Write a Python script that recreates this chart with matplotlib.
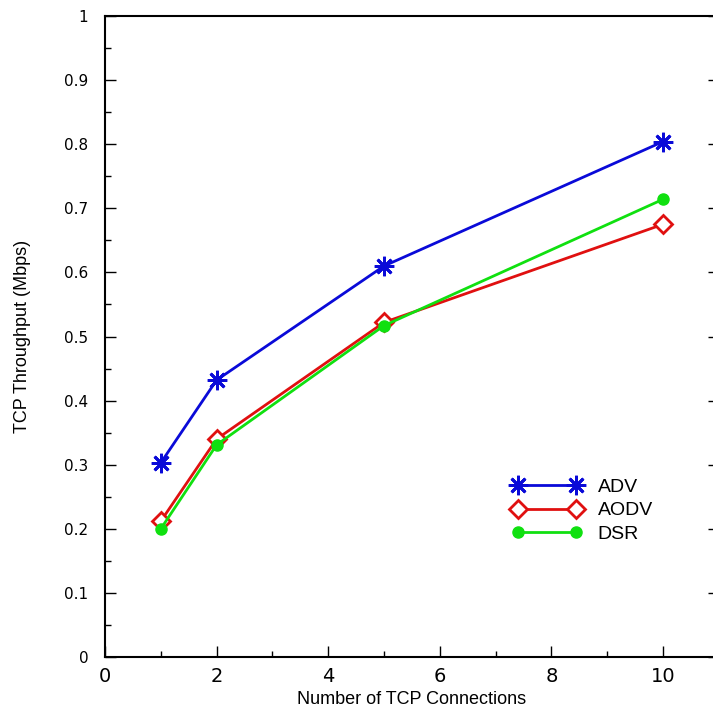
import matplotlib
matplotlib.use("Agg")
import matplotlib.pyplot as plt
from matplotlib.ticker import MultipleLocator

# TCP throughput vs number of connections
connections = [1, 2, 5, 10]
adv = [0.303, 0.432, 0.610, 0.804]
aodv = [0.212, 0.340, 0.522, 0.675]
dsr = [0.200, 0.331, 0.517, 0.714]

x_ticks = [0, 2, 4, 6, 8, 10]
y_ticks = [0, 0.1, 0.2, 0.3, 0.4, 0.5, 0.6, 0.7, 0.8, 0.9, 1]
y_tick_labels = ["0", "0.1", "0.2", "0.3", "0.4", "0.5", "0.6", "0.7", "0.8", "0.9", "1"]

fig = plt.figure(figsize=(7.13, 7.14), dpi=100)
ax = fig.add_axes([0.1473, 0.0798, 0.8608, 0.8978])

ax.plot(connections, adv, color="#0a0ad8", lw=2, marker=(8, 2, 0), ms=14,
        mew=2, label="ADV")
ax.plot(connections, aodv, color="#e01010", lw=2, marker="D", ms=9,
        mfc="white", mew=2, label="AODV")
ax.plot(connections, dsr, color="#10e010", lw=2, marker="o", ms=8,
        label="DSR")

ax.set_xlim(0, 11)
ax.set_ylim(0, 1)
ax.set_xticks(x_ticks)
ax.set_yticks(y_ticks)
ax.set_yticklabels(y_tick_labels)
ax.xaxis.set_minor_locator(MultipleLocator(1))
ax.yaxis.set_minor_locator(MultipleLocator(0.05))

ax.tick_params(which="both", direction="in", top=False, right=True)
ax.tick_params(which="major", length=8, width=1)
ax.tick_params(which="minor", length=4, width=1)
ax.tick_params(axis="y", pad=12)
ax.tick_params(axis="x", pad=7)
for lab in ax.get_xticklabels() + ax.get_yticklabels():
    lab.set_fontfamily("DejaVu Sans")
for lab in ax.get_xticklabels():
    lab.set_fontsize(14)
for lab in ax.get_yticklabels():
    lab.set_fontsize(11)
for sp in ax.spines.values():
    sp.set_linewidth(1.5)

ax.set_xlabel("Number of TCP Connections", fontsize=13, family="Liberation Sans")
ax.set_ylabel("TCP Throughput (Mbps)", fontsize=13, family="Liberation Sans")
ax.yaxis.set_label_coords(-0.12, 0.5)

ax.legend(loc="upper left", bbox_to_anchor=(0.718, 0.33),
          bbox_transform=fig.transFigure, frameon=False, numpoints=2,
          handlelength=3.6, handletextpad=0.8, labelspacing=0.3,
          borderpad=0, borderaxespad=0,
          prop={"family": "Liberation Sans", "size": 14})

plt.savefig("out.png", dpi=100)
